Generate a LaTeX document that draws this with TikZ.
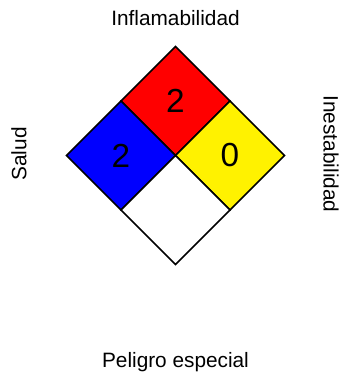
\documentclass[tikz,border=0pt]{standalone}
\usepackage{fontspec}
\setmainfont{Liberation Sans}
\begin{document}
\begin{tikzpicture}[x=0.75pt,y=0.75pt,
    quad/.style={draw=black,line width=1.1pt,line join=miter},
    lbl/.style={font=\fontsize{15.6}{18}\selectfont},
    num/.style={font=\fontsize{25}{28}\selectfont}]
    \useasboundingbox (0,0) rectangle (342,376);
    \begin{scope}[shift={(175.5,220.5)}]
    \foreach \dx/\dy/\col in {0/1/red,-1/0/blue,1/0/yellow,0/-1/white}
    \draw[quad,fill=\col] (\dx*54.5,\dy*54.5) ++(0,54.5) -- ++(-54.5,-54.5)
        -- ++(54.5,-54.5) -- ++(54.5,54.5) -- cycle;
    \node[num] (flam) at (0,54.5) {2};
    \node[num] (salud) at (-54.5,0) {2};
    \node[num] (inest) at (54.5,0) {0};
    \end{scope}
    \node[lbl] (tflam) at (175.5,358) {Inflamabilidad};
    \node[lbl,rotate=90] (tsalud) at (19,222) {Salud};
    \node[lbl,rotate=-90] (tinest) at (331,222) {Inestabilidad};
    \node[lbl] (tesp) at (175.5,14) {Peligro especial};
\end{tikzpicture}
\end{document}
